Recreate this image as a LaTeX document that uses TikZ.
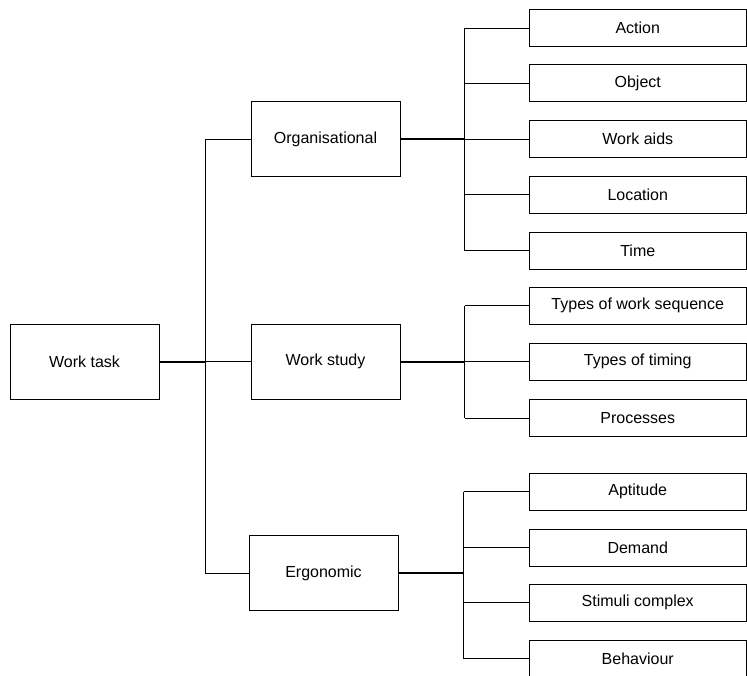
\documentclass[tikz,border=0pt]{standalone}
\usepackage{fontspec}
\setmainfont{Liberation Sans}
\begin{document}
\begin{tikzpicture}[x=1pt,y=-1pt,
  every node/.style={font=\fontsize{16}{19}\selectfont, inner sep=0pt},
  midbox/.style={draw, line width=1pt, minimum width=149pt, minimum height=75pt},
  leafbox/.style={draw, line width=1pt, minimum width=217.5pt, minimum height=37pt},
  link/.style={line width=1pt},
  trunk/.style={line width=2pt}]
\useasboundingbox (0,0) rectangle (747,675);

% root and the three aspects
\node[midbox] (root) at (84.5,361.5) {Work task};
\node[midbox] (org) at (325.5,139) {Organisational};
\node[midbox] (study) at (325.5,361.5) {Work study};
\node[midbox] (ergo) at (323.5,573) {Ergonomic};

% leaves
\node[leafbox] (action)   at (637.75,28)  {Action};
\node[leafbox] (object)   at (637.75,83)  {Object};
\node[leafbox] (aids)     at (637.75,139) {Work aids};
\node[leafbox] (location) at (637.75,194.5) {Location};
\node[leafbox] (time)     at (637.75,250.5) {Time};

\node[leafbox] (sequence) at (637.75,305.5) {Types of work sequence};
\node[leafbox] (timing)   at (637.75,361.5) {Types of timing};
\node[leafbox] (process)  at (637.75,418)   {Processes};

\node[leafbox] (aptitude) at (637.75,491.5) {Aptitude};
\node[leafbox] (demand)   at (637.75,547.5) {Demand};
\node[leafbox] (stimuli)  at (637.75,602.5) {Stimuli complex};
\node[leafbox] (behaviour) at (637.75,658.5) {Behaviour};

% branch points
\coordinate (hub) at (205,361.5);
\coordinate (orgspine) at (464.5,139);
\coordinate (studyspine) at (464.5,361.5);
\coordinate (ergospine) at (463.5,573);

% root to the aspects
\draw[trunk] (root.east) -- (hub);
\draw[link] (hub |- org) -- (hub |- ergo);
\draw[link] (hub |- org) -- (org.west);
\draw[link] (hub) -- (study.west);
\draw[link] (hub |- ergo) -- (ergo.west);

% organisational branch
\draw[trunk] (org.east) -- (orgspine);
\draw[link] (orgspine |- action) -- (orgspine |- time);
\foreach \n in {action,object,aids,location,time}
  \draw[link] (orgspine |- \n) -- (\n.west);

% work study branch
\draw[trunk] (study.east) -- (studyspine);
\draw[link] (studyspine |- sequence) -- (studyspine |- process);
\foreach \n in {sequence,timing,process}
  \draw[link] (studyspine |- \n) -- (\n.west);

% ergonomic branch
\draw[trunk] (ergo.east) -- (ergospine);
\draw[link] (ergospine |- aptitude) -- (ergospine |- behaviour);
\foreach \n in {aptitude,demand,stimuli,behaviour}
  \draw[link] (ergospine |- \n) -- (\n.west);
\end{tikzpicture}
\end{document}
